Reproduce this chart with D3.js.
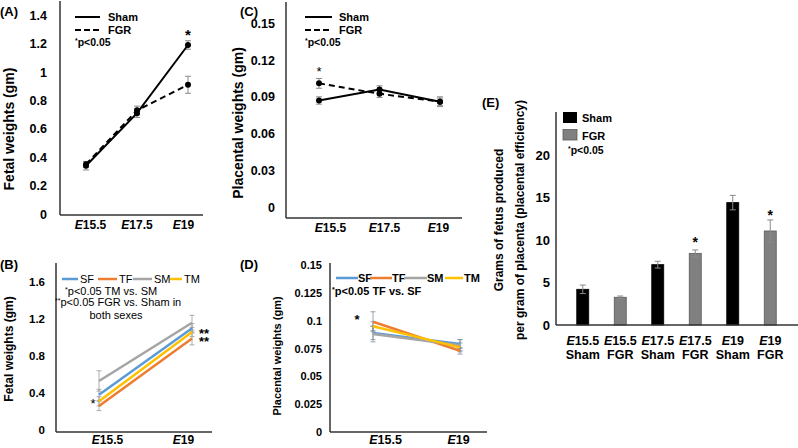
<!DOCTYPE html>
<html><head><meta charset="utf-8">
<script src="https://cdn.jsdelivr.net/npm/d3@7"></script>
<style>
body{margin:0;background:#fff}
svg{display:block;font-family:"Liberation Sans",Arial,sans-serif;font-weight:bold}
</style>
</head><body><svg id="c" width="798" height="448"></svg>
<script>
// ---------- DATA ----------
const timepoints = ["E15.5", "E17.5", "E19"];
const fetalSham = [0.34, 0.71, 1.19];
const fetalShamErr = [0.03, 0.03, 0.03];
const fetalFGR = [0.35, 0.73, 0.91];
const fetalFGRErr = [0.02, 0.03, 0.06];
const fetalTicks = [0, 0.2, 0.4, 0.6, 0.8, 1, 1.2, 1.4];

const placSham = [0.087, 0.096, 0.086];
const placShamErr = [0.003, 0.003, 0.003];
const placFGR = [0.101, 0.0925, 0.086];
const placFGRErr = [0.004, 0.003, 0.004];
const placTicks = [0, 0.03, 0.06, 0.09, 0.12, 0.15];

const sexTimepoints = ["E15.5", "E19"];
const sexGroups = ["SF", "TF", "SM", "TM"];
const fetalSF = [0.38, 1.10], fetalSFErr = [0.06, 0.05];
const fetalTF = [0.26, 0.99], fetalTFErr = [0.05, 0.07];
const fetalSM = [0.53, 1.16], fetalSMErr = [0.11, 0.08];
const fetalTM = [0.31, 1.06], fetalTMErr = [0.05, 0.05];
const fetalSexTicks = [0, 0.4, 0.8, 1.2, 1.6];

const placSF = [0.089, 0.079], placSFErr = [0.006, 0.004];
const placTF = [0.099, 0.073], placTFErr = [0.009, 0.003];
const placSM = [0.088, 0.078], placSMErr = [0.007, 0.005];
const placTM = [0.095, 0.076], placTMErr = [0.004, 0.004];
const placSexTicks = [0, 0.025, 0.05, 0.075, 0.1, 0.125, 0.15];

const effTimes = ["E15.5", "E15.5", "E17.5", "E17.5", "E19", "E19"];
const effGroups = ["Sham", "FGR", "Sham", "FGR", "Sham", "FGR"];
const effValues = [4.2, 3.26, 7.1, 8.43, 14.4, 11.06];
const effErr = [0.5, 0.15, 0.4, 0.4, 0.85, 1.3];
const effTicks = [0, 5, 10, 15, 20];

// ---------- HELPERS ----------
const svg = d3.select("#c");
const FONT = '"Liberation Sans", Arial, sans-serif';
const AXIS = "#333";
const ERR = "#8a8a8a";
const sexColors = {SF: "#5b9bd5", TF: "#ed7d31", SM: "#a5a5a5", TM: "#ffc000"};

function italicE(sel) {
  sel.each(function () {
    const t = d3.select(this), s = t.text();
    t.text(null);
    t.append("tspan").attr("font-style", "italic").text(s.slice(0, 1));
    t.append("tspan").text(s.slice(1));
  });
}
function yAxis(x0, y, ticks, fmt, fs, pad) {
  const g = svg.append("g").attr("transform", `translate(${x0},0)`)
    .call(d3.axisLeft(y).tickValues(ticks).tickFormat(fmt).tickSize(0).tickPadding(pad));
  g.attr("font-family", FONT).attr("font-size", fs).attr("font-weight", "bold");
  g.select(".domain").remove();
  g.selectAll("text").attr("fill", "#000");
  return g;
}
function xAxis(yPos, x, fs, pad) {
  const g = svg.append("g").attr("transform", `translate(0,${yPos})`)
    .call(d3.axisBottom(x).tickSize(0).tickPadding(pad));
  g.attr("font-family", FONT).attr("font-size", fs).attr("font-weight", "bold");
  g.select(".domain").remove();
  g.selectAll("text").attr("fill", "#000").call(italicE);
  return g;
}
function line(x1, y1, x2, y2, color, w, dash) {
  const l = svg.append("line").attr("x1", x1).attr("y1", y1).attr("x2", x2).attr("y2", y2)
    .attr("stroke", color).attr("stroke-width", w);
  if (dash) l.attr("stroke-dasharray", dash);
  return l;
}
function errBar(x, yTop, yBot, cap, color, w) {
  line(x, yTop, x, yBot, color, w || 1);
  line(x - cap, yTop, x + cap, yTop, color, w || 1);
  line(x - cap, yBot, x + cap, yBot, color, w || 1);
}
function text(x, y, s, fs, opts) {
  opts = opts || {};
  return svg.append("text").attr("x", x).attr("y", y).text(s)
    .attr("font-size", fs).attr("font-family", FONT)
    .attr("font-weight", opts.weight || "bold")
    .attr("text-anchor", opts.anchor || "start").attr("fill", "#000");
}
function starText(x, y, rest, fs, weight) {
  const t = svg.append("text").attr("x", x).attr("y", y).attr("font-size", fs)
    .attr("font-family", FONT).attr("font-weight", weight || "bold");
  t.append("tspan").attr("font-size", fs * 0.65).attr("dy", -fs * 0.3).text("*");
  t.append("tspan").attr("dy", fs * 0.3).text(rest);
  return t;
}
function rotTitle(x, y, s, fs) {
  svg.append("text").attr("transform", `translate(${x},${y}) rotate(-90)`)
    .attr("text-anchor", "middle").attr("font-size", fs).attr("font-family", FONT)
    .attr("font-weight", "bold").text(s);
}
const fmt = d => d3.format("~g")(d);

// ---------- PANEL A ----------
{
  const x = d3.scalePoint().domain(timepoints).range([86, 188]);
  const xl = d3.scalePoint().domain(timepoints).range([90, 183]);
  const y = d3.scaleLinear().domain([0, 1.5]).range([214, 1]);
  yAxis(60, y, fetalTicks, fmt, 12.5, 13);
  xAxis(215, xl, 12, 5);
  line(60, y(1.5), 60, 215, AXIS, 1.5);
  line(60, 215, 203, 215, AXIS, 1.5);
  rotTitle(14, 129, "Fetal weights (gm)", 14);
  text(0, 16, "(A)", 13);
  const series = [[fetalSham, fetalShamErr, null], [fetalFGR, fetalFGRErr, "6,4"]];
  series.forEach(([v, e]) => v.forEach((d, i) =>
    errBar(x(timepoints[i]), y(d + e[i]), y(d - e[i]), 3, ERR)));
  series.forEach(([v, e, dash]) => {
    const p = svg.append("path").datum(v)
      .attr("d", d3.line().x((d, i) => x(timepoints[i])).y(d => y(d)))
      .attr("fill", "none").attr("stroke", "#000").attr("stroke-width", 2);
    if (dash) p.attr("stroke-dasharray", dash);
    svg.selectAll(null).data(v).enter().append("circle")
      .attr("cx", (d, i) => x(timepoints[i])).attr("cy", d => y(d)).attr("r", 3).attr("fill", "#000");
  });
  text(x("E19"), 40, "*", 15, {anchor: "middle"});
  line(75, 17, 100, 17, "#000", 2);
  line(75, 30, 100, 30, "#000", 2, "6,3");
  text(108, 21, "Sham", 11);
  text(108, 34, "FGR", 11);
  starText(75, 46, "p<0.05", 10.5);
}

// ---------- PANEL C ----------
{
  const x = d3.scalePoint().domain(timepoints).range([319, 440]);
  const xl = d3.scalePoint().domain(timepoints).range([330, 438]);
  const y = d3.scaleLinear().domain([0, 0.165]).range([207, 5]);
  yAxis(286, y, placTicks, fmt, 12.5, 11);
  xAxis(218, xl, 12, 5);
  line(286, 2, 286, 218, AXIS, 1.5);
  line(286, 218, 462, 218, AXIS, 1.5);
  rotTitle(243, 123, "Placental weights (gm)", 14);
  text(240, 16, "(C)", 13);
  const series = [[placSham, placShamErr, null], [placFGR, placFGRErr, "6,4"]];
  series.forEach(([v, e]) => v.forEach((d, i) =>
    errBar(x(timepoints[i]), y(d + e[i]), y(d - e[i]), 3, ERR)));
  series.forEach(([v, e, dash]) => {
    const p = svg.append("path").datum(v)
      .attr("d", d3.line().x((d, i) => x(timepoints[i])).y(d => y(d)))
      .attr("fill", "none").attr("stroke", "#000").attr("stroke-width", 2);
    if (dash) p.attr("stroke-dasharray", dash);
    svg.selectAll(null).data(v).enter().append("circle")
      .attr("cx", (d, i) => x(timepoints[i])).attr("cy", d => y(d)).attr("r", 3).attr("fill", "#000");
  });
  text(x("E15.5"), 76, "*", 13, {anchor: "middle", weight: "normal"});
  line(305, 17, 332, 17, "#000", 2);
  line(305, 30, 332, 30, "#000", 2, "6,3");
  text(339, 21, "Sham", 11);
  text(339, 34, "FGR", 11);
  starText(305, 46, "p<0.05", 10.5);
}

// ---------- PANEL B ----------
{
  const x = d3.scalePoint().domain(sexTimepoints).range([99, 192]);
  const xl = d3.scalePoint().domain(sexTimepoints).range([107, 183]);
  const y = d3.scaleLinear().domain([0, 1.8]).range([430, 263.5]);
  yAxis(56, y, fetalSexTicks, fmt, 11.5, 11);
  xAxis(432, xl, 12, 3.5);
  line(56, 263, 56, 432, AXIS, 1.5);
  line(56, 432, 212, 432, AXIS, 1.5);
  rotTitle(13, 349, "Fetal weights (gm)", 12);
  text(0, 269, "(B)", 13);
  const data = {SF: [fetalSF, fetalSFErr], TF: [fetalTF, fetalTFErr], SM: [fetalSM, fetalSMErr], TM: [fetalTM, fetalTMErr]};
  sexGroups.forEach(k => data[k][0].forEach((d, i) =>
    errBar(x(sexTimepoints[i]), y(d + data[k][1][i]), y(d - data[k][1][i]), 2.5, "#999", 0.8)));
  sexGroups.forEach(k => svg.append("path").datum(data[k][0])
    .attr("d", d3.line().x((d, i) => x(sexTimepoints[i])).y(d => y(d)))
    .attr("fill", "none").attr("stroke", sexColors[k]).attr("stroke-width", 2.5));
  // legend
  const lx = [[62, 78, 80], [98, 117, 119], [133, 152, 154], [170, 182, 184]];
  sexGroups.forEach((k, i) => {
    line(lx[i][0], 279, lx[i][1], 279, sexColors[k], 2.5);
    text(lx[i][2], 283, k, 11, {weight: "normal"});
  });
  starText(65, 295, "p<0.05 TM vs. SM", 11, "normal");
  const t2 = svg.append("text").attr("x", 55).attr("y", 306).attr("font-size", 11)
    .attr("font-family", FONT).attr("font-weight", "normal");
  t2.append("tspan").attr("font-size", 7).attr("dy", -3).text("**");
  t2.append("tspan").attr("dy", 3).text("p<0.05 FGR vs. Sham in");
  text(116, 319, "both sexes", 11, {anchor: "middle", weight: "normal"});
  text(93, 408, "*", 13, {anchor: "middle", weight: "normal"});
  const st = svg.append("text").attr("font-size", 13).attr("font-family", FONT).attr("font-weight", "bold");
  st.append("tspan").attr("x", 199).attr("y", 338).text("**");
  st.append("tspan").attr("x", 199).attr("y", 346).text("**");
}

// ---------- PANEL D ----------
{
  const x = d3.scalePoint().domain(sexTimepoints).range([373, 460]);
  const xl = d3.scalePoint().domain(sexTimepoints).range([385, 458]);
  const y = d3.scaleLinear().domain([0, 0.15]).range([432, 265]);
  yAxis(330, y, placSexTicks, fmt, 11, 8);
  xAxis(432, xl, 12.5, 3.5);
  line(330, 263, 330, 432, AXIS, 1.5);
  line(330, 432, 487, 432, AXIS, 1.5);
  rotTitle(281, 356, "Placental weights (gm)", 11);
  text(240, 269, "(D)", 13);
  const data = {SF: [placSF, placSFErr], TF: [placTF, placTFErr], SM: [placSM, placSMErr], TM: [placTM, placTMErr]};
  sexGroups.forEach(k => data[k][0].forEach((d, i) =>
    errBar(x(sexTimepoints[i]), y(d + data[k][1][i]), y(d - data[k][1][i]), 2.5, "#7f8fa0", 0.8)));
  sexGroups.forEach(k => svg.append("path").datum(data[k][0])
    .attr("d", d3.line().x((d, i) => x(sexTimepoints[i])).y(d => y(d)))
    .attr("fill", "none").attr("stroke", sexColors[k]).attr("stroke-width", 2.5));
  const lx = [[336, 358, 358], [370, 392, 392], [404, 427, 427], [445, 463, 464]];
  sexGroups.forEach((k, i) => {
    line(lx[i][0], 278, lx[i][1], 278, sexColors[k], 2.5);
    text(lx[i][2], 282, k, 11);
  });
  starText(332, 295, "p<0.05 TF vs. SF", 11);
  text(357, 324, "*", 13, {anchor: "middle"});
}

// ---------- PANEL E ----------
{
  const labels = effTimes.map((t, i) => t + "|" + effGroups[i]);
  const x = d3.scaleBand().domain(labels).range([564, 789]).paddingInner(0.68).paddingOuter(0.34);
  const y = d3.scaleLinear().domain([0, 25]).range([325, 112.5]);
  yAxis(556, y, effTicks, fmt, 13, 6);
  const g = svg.append("g").attr("transform", "translate(0,325)")
    .call(d3.axisBottom(x).tickSize(0).tickPadding(11));
  g.attr("font-family", FONT).attr("font-size", 12.5).attr("font-weight", "bold");
  g.select(".domain").remove();
  g.selectAll("text").attr("fill", "#000").each(function () {
    const t = d3.select(this), parts = t.text().split("|");
    t.text(null);
    t.append("tspan").attr("font-style", "italic").text(parts[0].slice(0, 1));
    t.append("tspan").text(parts[0].slice(1));
    t.append("tspan").attr("x", 0).attr("dy", "1.15em").text(parts[1]);
  });
  svg.selectAll(null).data(effValues).enter().append("rect")
    .attr("x", (d, i) => x(labels[i])).attr("width", x.bandwidth())
    .attr("y", d => y(d)).attr("height", d => y(0) - y(d))
    .attr("fill", (d, i) => effGroups[i] === "Sham" ? "#000" : "#808080")
    .attr("stroke", (d, i) => effGroups[i] === "Sham" ? "#000" : "#5a5a5a").attr("stroke-width", 0.8);
  effValues.forEach((d, i) => {
    const cx = x(labels[i]) + x.bandwidth() / 2;
    errBar(cx, y(d + effErr[i]), y(d - effErr[i]), 3, ERR, 1);
  });
  line(556, 112, 556, 325, AXIS, 1.5);
  line(556, 325, 798, 325, AXIS, 1.5);
  const bx = i => x(labels[i]) + x.bandwidth() / 2;
  text(bx(3), 247, "*", 14, {anchor: "middle"});
  text(bx(5), 220, "*", 14, {anchor: "middle"});
  text(482, 107, "(E)", 13);
  svg.append("text").attr("transform", "translate(503,220) rotate(-90)")
    .attr("text-anchor", "middle").attr("font-size", 12).attr("font-family", FONT)
    .attr("font-weight", "bold").text("Grams of fetus produced");
  svg.append("text").attr("transform", "translate(524,220) rotate(-90)")
    .attr("text-anchor", "middle").attr("font-size", 12).attr("font-family", FONT)
    .attr("font-weight", "bold").text("per gram of placenta (placental efficiency)");
  svg.append("rect").attr("x", 563).attr("y", 112).attr("width", 14).attr("height", 11).attr("fill", "#000");
  svg.append("rect").attr("x", 563).attr("y", 129.5).attr("width", 14).attr("height", 10.5)
    .attr("fill", "#808080").attr("stroke", "#5a5a5a").attr("stroke-width", 0.8);
  text(582, 122, "Sham", 11);
  text(582, 140, "FGR", 11);
  starText(568, 154, "p<0.05", 10.5);
}
</script></body></html>
